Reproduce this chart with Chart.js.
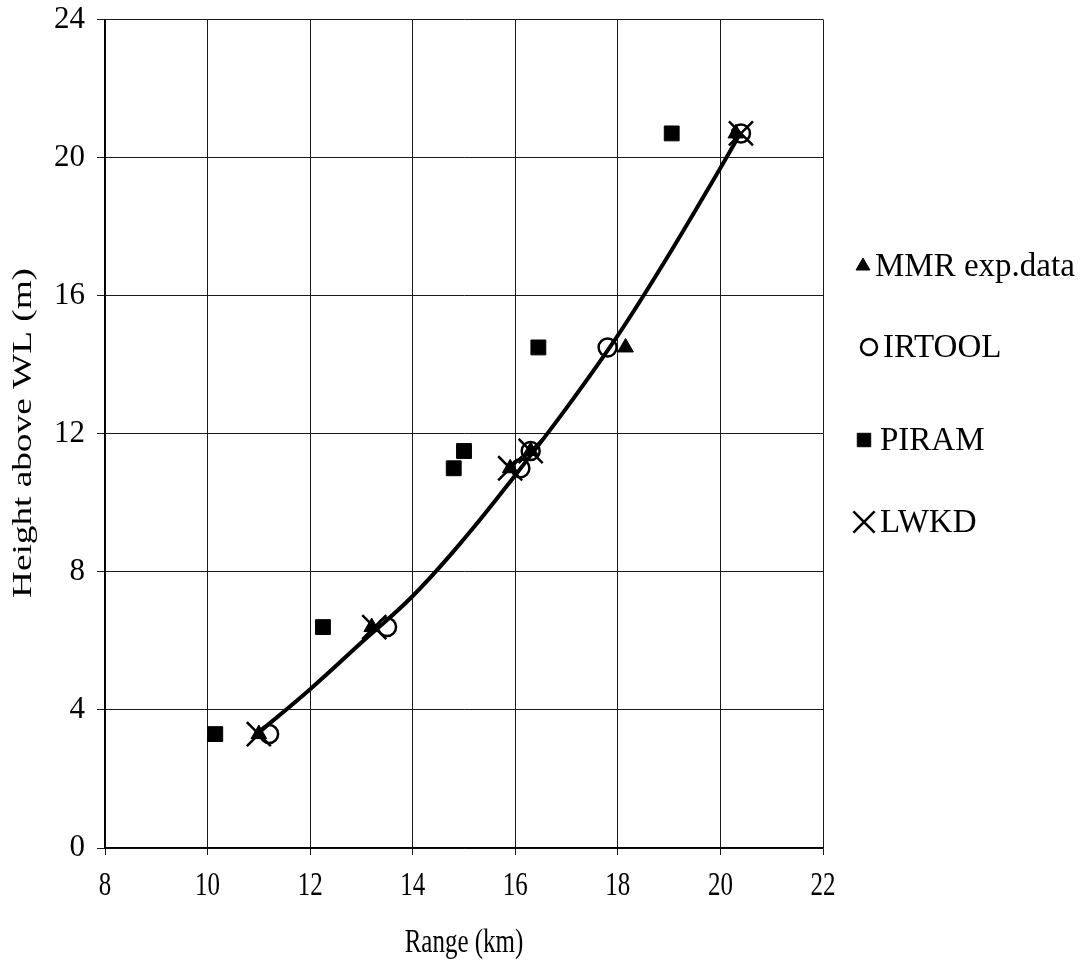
<!DOCTYPE html>
<html>
<head>
<meta charset="utf-8">
<script src="https://cdn.jsdelivr.net/npm/chart.js@4/dist/chart.umd.min.js"></script>
<style>
  html, body { margin: 0; padding: 0; background: #fff; }
  #wrap { width: 1086px; height: 964px; position: relative; }
</style>
</head>
<body>
<div id="wrap"><canvas id="chart" width="1086" height="964"></canvas></div>
<script>
// valeurs
const xTicks = [8, 10, 12, 14, 16, 18, 20, 22];
const yTicks = [0, 4, 8, 12, 16, 20, 24];

const mmrX = [11.0, 13.2, 15.9, 16.3, 18.15, 20.3];
const mmrY = [3.3, 6.4, 11.0, 11.5, 14.5, 20.7];

const irtoolX = [11.2, 13.5, 16.1, 16.3, 17.8, 20.4];
const irtoolY = [3.3, 6.4, 11.0, 11.5, 14.5, 20.7];

const piramX = [10.15, 12.25, 14.8, 15.0, 16.45, 19.05];
const piramY = [3.3, 6.4, 11.0, 11.5, 14.5, 20.7];

const lwkdX = [11.0, 13.25, 15.9, 16.3, 20.4];
const lwkdY = [3.3, 6.4, 11.0, 11.5, 20.7];

// courbe de tendance
const curveX = [11.0, 12.0, 13.0, 14.0, 15.0, 16.0, 17.0, 18.0, 19.0, 20.0, 20.35];
const curveY = [3.35, 4.6, 5.95, 7.3, 8.95, 10.8, 12.75, 14.85, 17.2, 19.7, 20.6];

const xTitle = "Range (km)";
const yTitle = "Height above WL (m)";

const legendItems = [
  { label: "MMR exp.data", style: "triangle" },
  { label: "IRTOOL", style: "circle" },
  { label: "PIRAM", style: "rect" },
  { label: "LWKD", style: "crossRot" },
];

const toPts = (xs, ys) => xs.map((x, i) => ({ x: x, y: ys[i] }));
const FONT = "'Liberation Serif', 'Times New Roman', serif";

const markerOpts = {
  triangle: { pointStyle: "triangle", radius: 9, borderWidth: 1, fill: true, legendR: 8 },
  circle: { pointStyle: "circle", radius: 9, borderWidth: 2.5, fill: false, legendR: 8 },
  rect: { pointStyle: "rect", radius: 10.5, borderWidth: 1, fill: true, legendR: 9.5 },
  crossRot: { pointStyle: "crossRot", radius: 17, borderWidth: 2.5, fill: false, legendR: 15 },
};

function scatterSet(label, xs, ys, style) {
  const m = markerOpts[style];
  return {
    type: "scatter",
    label: label,
    data: toPts(xs, ys),
    pointStyle: m.pointStyle,
    pointRadius: m.radius,
    pointBorderWidth: m.borderWidth,
    pointBorderColor: "#000",
    pointBackgroundColor: m.fill ? "#000" : "rgba(0,0,0,0)",
    showLine: false,
    order: 2,
  };
}

// texte etire (la figure d'origine est deformee)
function stretchedText(ctx, text, x, y, sx, sy, rot) {
  ctx.save();
  ctx.translate(x, y);
  if (rot) ctx.rotate(rot);
  ctx.scale(sx, sy);
  ctx.fillText(text, 0, 0);
  ctx.restore();
}

const axisText = {
  id: "axisText",
  afterDraw(chart) {
    const ctx = chart.ctx;
    const xs = chart.scales.x;
    ctx.save();
    ctx.fillStyle = "#000";
    ctx.textAlign = "center";
    ctx.textBaseline = "middle";
    ctx.font = "25px " + FONT;
    xTicks.forEach((v) => {
      stretchedText(ctx, String(v), xs.getPixelForValue(v), 886, 1, 1.38, 0);
    });
    stretchedText(ctx, xTitle, (xs.left + xs.right) / 2, 943, 1, 1.38, 0);
    ctx.font = "27px " + FONT;
    stretchedText(ctx, yTitle, 24, 433, 1.38, 1, -Math.PI / 2);
    ctx.restore();
  },
};

// Legende dessinee a droite
const sideLegend = {
  id: "sideLegend",
  afterDraw(chart) {
    const ctx = chart.ctx;
    const rows = [266, 347, 440, 522];
    const markX = [863, 869, 864, 864];
    const textX = [875, 883, 880, 880];
    ctx.save();
    legendItems.forEach((item, i) => {
      const m = markerOpts[item.style];
      ctx.fillStyle = m.fill ? "#000" : "rgba(0,0,0,0)";
      ctx.strokeStyle = "#000";
      ctx.lineWidth = m.borderWidth;
      Chart.helpers.drawPoint(ctx, {
        pointStyle: m.pointStyle,
        radius: m.legendR,
        borderWidth: m.borderWidth,
        rotation: 0,
      }, markX[i], rows[i]);
      ctx.font = "33px " + FONT;
      ctx.textBaseline = "middle";
      ctx.textAlign = "left";
      ctx.fillStyle = "#000";
      ctx.fillText(item.label, textX[i], rows[i] + 1);
    });
    ctx.restore();
  },
};

new Chart(document.getElementById("chart"), {
  data: {
    datasets: [
      {
        type: "line",
        label: "fit",
        data: toPts(curveX, curveY),
        borderColor: "#000",
        borderWidth: 4,
        pointRadius: 0,
        fill: false,
        tension: 0.4,
        order: 0,
      },
      scatterSet("MMR exp.data", mmrX, mmrY, "triangle"),
      scatterSet("IRTOOL", irtoolX, irtoolY, "circle"),
      scatterSet("PIRAM", piramX, piramY, "rect"),
      scatterSet("LWKD", lwkdX, lwkdY, "crossRot"),
    ],
  },
  options: {
    responsive: false,
    animation: false,
    layout: { padding: { top: 18, right: 263, left: 0, bottom: 0 } },
    plugins: {
      legend: { display: false },
      tooltip: { enabled: false },
    },
    scales: {
      x: {
        type: "linear",
        min: 8,
        max: 22,
        afterBuildTicks: (scale) => { scale.ticks = xTicks.map((v) => ({ value: v })); },
        afterFit: (scale) => { scale.height = 116; scale.paddingLeft = 0; scale.paddingRight = 0; },
        grid: { color: "#1a1a1a", lineWidth: 1, tickLength: 7, drawTicks: true },
        border: { color: "#000", width: 1.5 },
        ticks: { display: false },
        title: { display: false },
      },
      y: {
        type: "linear",
        min: 0,
        max: 24,
        afterBuildTicks: (scale) => { scale.ticks = yTicks.map((v) => ({ value: v })); },
        afterFit: (scale) => { scale.width = 105; scale.paddingTop = 0; scale.paddingBottom = 0; },
        grid: { color: "#1a1a1a", lineWidth: 1, tickLength: 8, drawTicks: true },
        border: { color: "#000", width: 1.5 },
        ticks: { color: "#000", font: { family: FONT, size: 31 }, padding: 12 },
        title: { display: false },
      },
    },
  },
  plugins: [sideLegend, axisText],
});
</script>
</body>
</html>
